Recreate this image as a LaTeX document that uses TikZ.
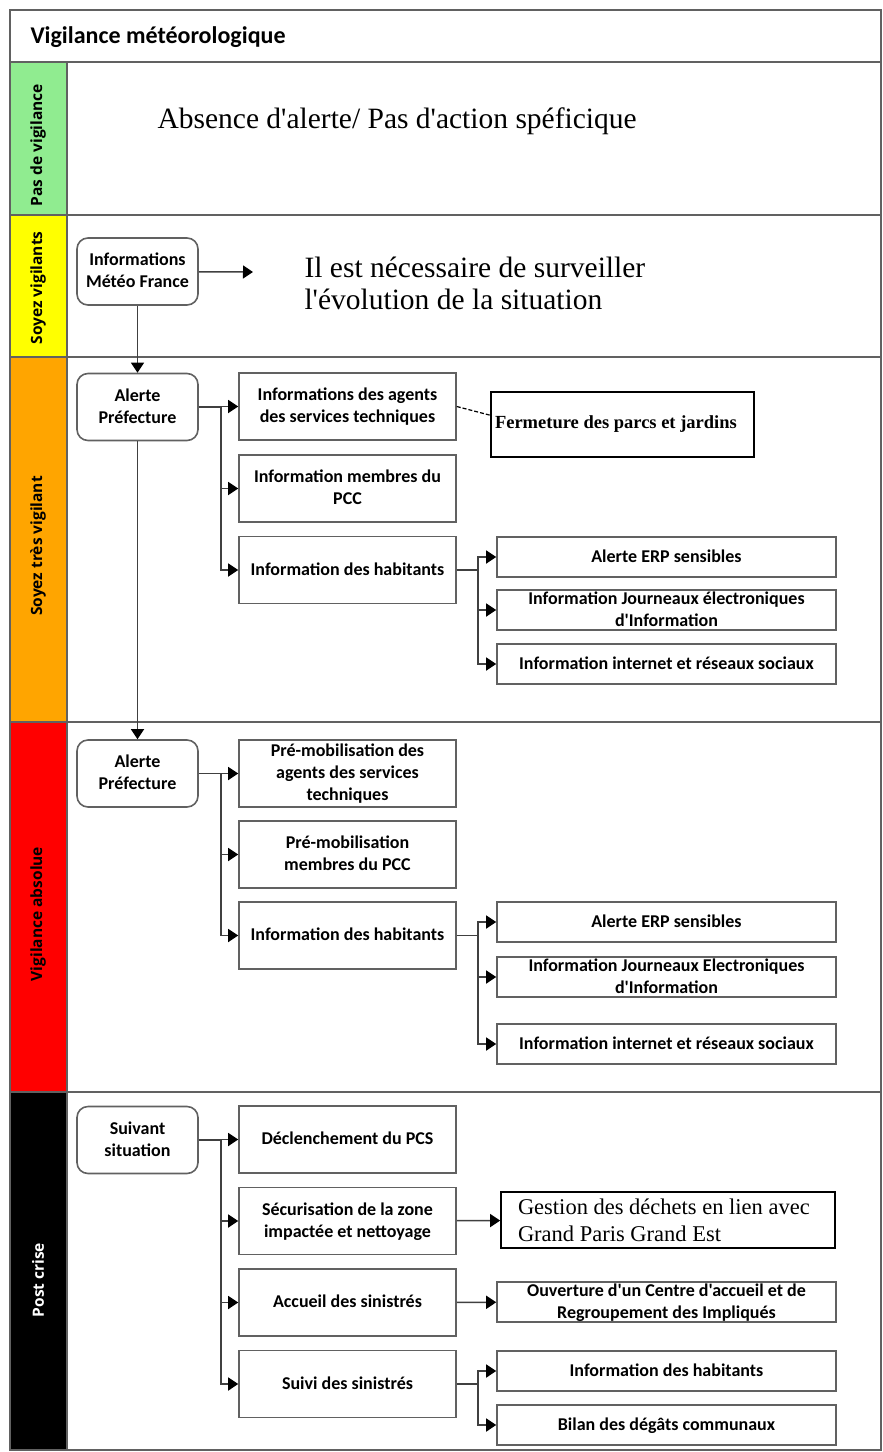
\documentclass[tikz,border=0pt]{standalone}
\usepackage{fontspec}
\newfontfamily\timesfont{Liberation Serif}
\newfontfamily\calib{Carlito}
\newfontfamily\lanefont{Open Sans}
\usetikzlibrary{arrows.meta}
\definecolor{vgreen}{RGB}{144,236,144}
\definecolor{vyellow}{RGB}{255,255,0}
\definecolor{vorange}{RGB}{255,165,0}
\definecolor{vred}{RGB}{255,0,0}
\newcommand\boxtext[1]{\raisebox{-5pt}[0pt][0pt]{\begin{tabular}{@{}c@{}}#1\end{tabular}}}

\begin{document}
\begin{tikzpicture}[x=1pt,y=-1pt,
	lane/.style={draw=black!62, line width=2.2pt},
	lanelabel/.style={rotate=90, font=\lanefont\bfseries\fontsize{15.5}{18}\selectfont},
	stepbox/.style={draw=black!62, line width=1.6pt, minimum width=217pt, minimum height=67pt, font=\calib\bfseries\fontsize{18}{22}\selectfont},
	subbox/.style={stepbox, minimum width=339pt, minimum height=40pt},
	roundbox/.style={stepbox, rounded corners=11pt, minimum width=121pt},
	note/.style={draw=black, line width=1.6pt, align=flush left},
	conn/.style={draw=black!75, line width=1.5pt, -{Triangle[length=10pt,width=13pt,color=black]}}]
			%%%%% START %%%%%
			\useasboundingbox (0,0) rectangle (883,1452);
			
			\fill[vgreen] (10,62) rectangle (67,215);
			\fill[vyellow] (10,215) rectangle (67,357);
			\fill[vorange] (10,357) rectangle (67,722);
			\fill[vred] (10,722) rectangle (67,1092);
			\fill[black] (10,1092) rectangle (67,1450);
			
			\draw[lane] (10,10) rectangle (881,1450);
			\draw[lane] (10,62) -- (881,62);
			\draw[lane] (10,215) -- (881,215);
			\draw[lane] (10,357) -- (881,357);
			\draw[lane] (10,722) -- (881,722);
			\draw[lane] (10,1092) -- (881,1092);
			\draw[lane] (67,62) -- (67,1450);
			
			\node[anchor=west, font=\calib\bfseries\fontsize{24}{28}\selectfont] (titre) at (27,37) {Vigilance météorologique};
			
			\node[lanelabel] (pasvig) at (38,145) {Pas de vigilance};
			\node[lanelabel] (vig) at (38,288) {Soyez vigilants};
			\node[lanelabel] (tresvig) at (38,546) {Soyez très vigilant};
			\node[lanelabel] (absolue) at (38,914) {Vigilance absolue};
			\node[lanelabel, text=white] (postcrise) at (38,1280) {Post crise};
			
			%%%%% PAS DE VIGILANCE / SOYEZ VIGILANTS %%%%%
			\node[anchor=west, font=\timesfont\fontsize{29.5}{33}\selectfont] (absence) at (154,121) {Absence d'alerte/ Pas d'action spéficique};
			
			\node[roundbox] (meteo) at (137.5,271.5) {\boxtext{Informations\\Météo France}};
			\coordinate (meteofin) at (253,272);
			\draw[conn] (meteo) -- (meteofin);
			\node[anchor=west, align=flush left, font=\timesfont\fontsize{29.5}{32}\selectfont] (surveiller) at (301,283) {Il est nécessaire de surveiller\\l'évolution de la situation};
			
			%%%%% SOYEZ TRES VIGILANT %%%%%
			\node[roundbox] (alerteA) at (137.5,407) {\boxtext{Alerte\\Préfecture}};
			\draw[conn] (meteo) -- (alerteA);
			
			\node[stepbox] (agentsA) at (347.5,406.5) {\boxtext{Informations des agents\\des services techniques}};
			\node[stepbox] (pccA) at (347.5,488.5) {\boxtext{Information membres du\\PCC}};
			\node[stepbox] (habA) at (347.5,570) {\boxtext{Information des habitants}};
			\draw[conn] (alerteA.east) -- ++(22,0) |- (agentsA);
			\draw[conn] (alerteA.east) -- ++(22,0) |- (pccA);
			\draw[conn] (alerteA.east) -- ++(22,0) |- (habA);
			
			\node[note, inner sep=4pt, text width=255pt, minimum height=65pt, font=\timesfont\bfseries\fontsize{18.5}{22}\selectfont] (parcs) at (622.5,424.5) {Fermeture des parcs et jardins};
			\draw[black, line width=1.2pt, dash pattern=on 4pt off 2pt] (agentsA.east) -- (parcs.176);
			
			\node[subbox] (erpA) at (666.5,557) {\boxtext{Alerte ERP sensibles}};
			\node[subbox] (journauxA) at (666.5,610) {\boxtext{Information Journeaux électroniques\\d'Information}};
			\node[subbox] (reseauxA) at (666.5,664) {\boxtext{Information internet et réseaux sociaux}};
			\draw[conn] (habA.east) -- ++(21,0) |- (erpA);
			\draw[conn] (habA.east) -- ++(21,0) |- (journauxA);
			\draw[conn] (habA.east) -- ++(21,0) |- (reseauxA);
			
			%%%%% VIGILANCE ABSOLUE %%%%%
			\node[roundbox] (alerteB) at (137.5,773.5) {\boxtext{Alerte\\Préfecture}};
			\draw[conn] (alerteA) -- (alerteB);
			
			\node[stepbox] (agentsB) at (347.5,773.5) {\boxtext{Pré-mobilisation des\\agents des services\\techniques}};
			\node[stepbox] (pccB) at (347.5,854.5) {\boxtext{Pré-mobilisation\\membres du PCC}};
			\node[stepbox] (habB) at (347.5,935.5) {\boxtext{Information des habitants}};
			\draw[conn] (alerteB.east) -- ++(22,0) |- (agentsB);
			\draw[conn] (alerteB.east) -- ++(22,0) |- (pccB);
			\draw[conn] (alerteB.east) -- ++(22,0) |- (habB);
			
			\node[subbox] (erpB) at (666.5,922) {\boxtext{Alerte ERP sensibles}};
			\node[subbox] (journauxB) at (666.5,977) {\boxtext{Information Journeaux Electroniques\\d'Information}};
			\node[subbox] (reseauxB) at (666.5,1044) {\boxtext{Information internet et réseaux sociaux}};
			\draw[conn] (habB.east) -- ++(21,0) |- (erpB);
			\draw[conn] (habB.east) -- ++(21,0) |- (journauxB);
			\draw[conn] (habB.east) -- ++(21,0) |- (reseauxB);
			
			%%%%% POST CRISE %%%%%
			\node[roundbox] (suivant) at (137.5,1140) {\boxtext{Suivant\\situation}};
			
			\node[stepbox] (pcs) at (347.5,1139.5) {\boxtext{Déclenchement du PCS}};
			\node[stepbox] (zone) at (347.5,1221) {\boxtext{Sécurisation de la zone\\impactée et nettoyage}};
			\node[stepbox] (accueil) at (347.5,1302.5) {\boxtext{Accueil des sinistrés}};
			\node[stepbox] (suivi) at (347.5,1384) {\boxtext{Suivi des sinistrés}};
			\draw[conn] (suivant.east) -- ++(22,0) |- (pcs);
			\draw[conn] (suivant.east) -- ++(22,0) |- (zone);
			\draw[conn] (suivant.east) -- ++(22,0) |- (accueil);
			\draw[conn] (suivant.east) -- ++(22,0) |- (suivi);
			
			\node[note, inner xsep=17pt, inner ysep=3pt, text width=300pt, minimum height=56pt, font=\timesfont\fontsize{22.5}{27}\selectfont] (dechets) at (668,1220) {Gestion des déchets en lien avec\\Grand Paris Grand Est};
			\draw[conn] (zone) -- (dechets);
			
			\node[subbox] (ouverture) at (666.5,1302) {\boxtext{Ouverture d'un Centre d'accueil et de\\Regroupement des Impliqués}};
			\draw[conn] (accueil) -- (ouverture);
			
			\node[subbox] (infohab) at (666.5,1371) {\boxtext{Information des habitants}};
			\node[subbox] (bilan) at (666.5,1425) {\boxtext{Bilan des dégâts communaux}};
			\draw[conn] (suivi.east) -- ++(21,0) |- (infohab);
			\draw[conn] (suivi.east) -- ++(21,0) |- (bilan);
			%%%%% END %%%%%
\end{tikzpicture}
\end{document}
